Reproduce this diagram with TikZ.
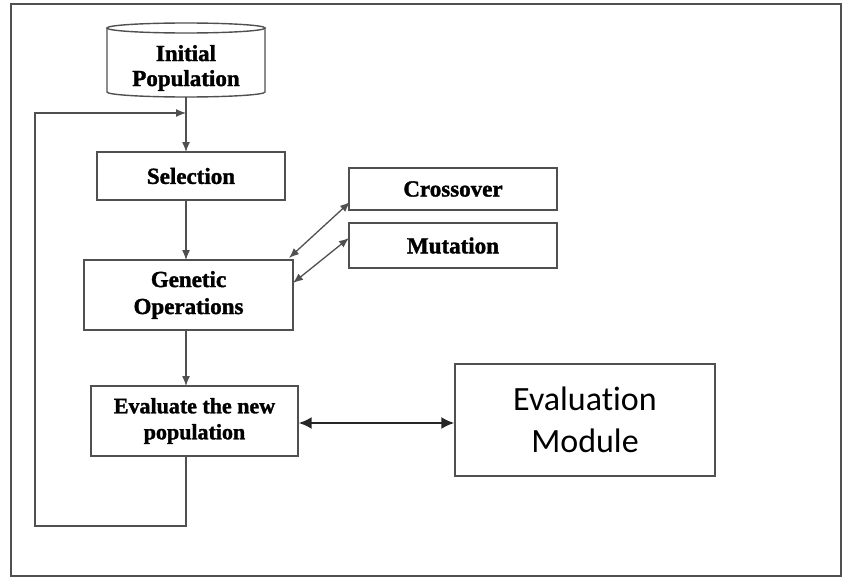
\documentclass[tikz,border=0pt]{standalone}
\usepackage{fontspec}
\setmainfont{Liberation Serif}[BoldFeatures={FakeBold=1.5}]
\newfontfamily\calfont{Carlito}[Ligatures={NoCommon}]
\usetikzlibrary{arrows.meta}
\definecolor{linegray}{HTML}{505050}
\tikzset{
  boxst/.style={draw=linegray, line width=1.4pt, rectangle, inner sep=0pt, align=center, font=\fontsize{23}{25}\selectfont\bfseries},
  conn/.style={draw=linegray, line width=1.3pt, -{Latex[length=10pt,width=8pt]}},
  dconn/.style={draw=linegray, line width=1.3pt, {Latex[length=10pt,width=8pt]}-{Latex[length=10pt,width=8pt]}},
  bigdconn/.style={draw=black!85, line width=2pt, {Latex[length=13pt,width=12pt]}-{Latex[length=13pt,width=12pt]}},
}
\begin{document}
\begin{tikzpicture}[x=1pt,y=-1pt]
\useasboundingbox (0,0) rectangle (843,578);
\draw[linegray, line width=2pt] (11,4) rectangle (841,576);
% cylinder
\node[boxst, draw=none, minimum width=158pt, minimum height=60pt] (init) at (186,68) {Initial\\Population};
\draw[linegray, line width=1.4pt] (107,28) -- (107,92) arc[start angle=180,end angle=360,x radius=79pt,y radius=5pt] -- (265,28);
\draw[linegray, line width=1.4pt] (186,28) ellipse[x radius=79pt, y radius=5pt];
\coordinate (initb) at (186,97);
\node[boxst, minimum width=188pt, minimum height=48pt] (sel) at (191,176) {Selection};
\node[boxst, minimum width=209pt, minimum height=70pt, font=\fontsize{23}{27}\selectfont\bfseries] (gen) at (188.5,295) {Genetic\\Operations};
\node[boxst, minimum width=208pt, minimum height=42pt] (cross) at (453,189) {Crossover};
\node[boxst, minimum width=208pt, minimum height=45pt] (mut) at (453,245.5) {Mutation};
\node[boxst, minimum width=207pt, minimum height=70pt, font=\fontsize{22}{26}\selectfont\bfseries] (eval) at (194.5,421) {Evaluate the new\\population};
\node[draw=linegray, line width=1.4pt, rectangle, inner sep=0pt, align=center, minimum width=260pt, minimum height=112pt, font=\calfont\fontsize{34}{42}\selectfont] (mod) at (585,420) {Evaluation\\Module};
% connectors
\draw[conn] (initb) -- (186,152);
\draw[conn] (186,200) -- (186,260);
\draw[conn] (186,330) -- (186,386);
\coordinate (c1) at (289,258);
\coordinate (c2) at (350,202);
\coordinate (m1) at (293,283);
\coordinate (m2) at (349,238);
\draw[dconn] (c1) -- (c2);
\draw[dconn] (m1) -- (m2);
\draw[bigdconn] (eval.east |- 0,423) -- (mod.west |- 0,423);
\coordinate (fb1) at (186,526);
\coordinate (fb2) at (35,526);
\coordinate (fb3) at (35,113);
\coordinate (fb4) at (186,113);
\draw[conn] (eval.south -| fb1) -- (fb1) -- (fb2) -- (fb3) -- (fb4);
\end{tikzpicture}
\end{document}
